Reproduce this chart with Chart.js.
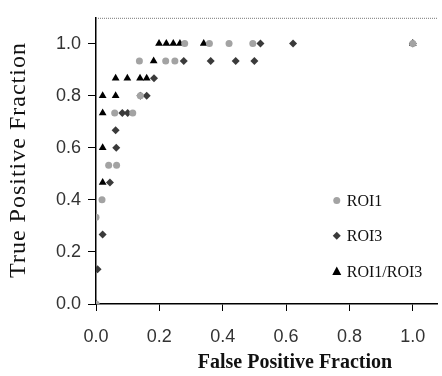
<!DOCTYPE html>
<html><head><meta charset="utf-8">
<script src="https://cdn.jsdelivr.net/npm/chart.js@4.4.1/dist/chart.umd.min.js"></script>
<style>html,body{margin:0;padding:0;background:#fff}#wrap{width:442px;height:376px}</style>
</head><body><div id="wrap"><canvas id="c" width="442" height="376"></canvas></div>
<script>
const seriesLabels = ["ROI1", "ROI3", "ROI1/ROI3"];
const roi1X = [0.0, 0.0, 0.019, 0.040, 0.065, 0.059, 0.116, 0.140, 0.137, 0.220, 0.249, 0.280, 0.358, 0.420, 0.495, 1.0];
const roi1Y = [0.0, 0.333, 0.400, 0.533, 0.533, 0.733, 0.733, 0.800, 0.933, 0.933, 0.933, 1.0, 1.0, 1.0, 1.0, 1.0];
const roi3X = [0.0, 0.005, 0.021, 0.044, 0.064, 0.062, 0.083, 0.100, 0.140, 0.160, 0.183, 0.277, 0.362, 0.441, 0.500, 0.519, 0.622, 1.0];
const roi3Y = [0.0, 0.133, 0.267, 0.467, 0.600, 0.667, 0.733, 0.733, 0.800, 0.800, 0.867, 0.933, 0.933, 0.933, 0.933, 1.0, 1.0, 1.0];
const comboX = [0.0, 0.021, 0.021, 0.021, 0.021, 0.062, 0.062, 0.099, 0.139, 0.160, 0.182, 0.199, 0.222, 0.244, 0.265, 0.340, 1.0];
const comboY = [0.0, 0.467, 0.600, 0.733, 0.800, 0.800, 0.867, 0.867, 0.867, 0.867, 0.933, 1.0, 1.0, 1.0, 1.0, 1.0, 1.0];
const xTicks = [0, 0.2, 0.4, 0.6, 0.8, 1.0];
const yTicks = [0, 0.2, 0.4, 0.6, 0.8, 1.0];
const xTitle = "False Positive Fraction";
const yTitle = "True Positive Fraction";

const pts = (xs, ys) => xs.map((x, i) => ({x: x, y: ys[i]}));
const styles = [
  {color: '#a3a3a3', shape: 'circle', r: 3.5},
  {color: '#3a3a3a', shape: 'rectRot', r: 4},
  {color: '#000000', shape: 'triangle', r: 4.5}
];
const dataArr = [pts(roi1X, roi1Y), pts(roi3X, roi3Y), pts(comboX, comboY)];

function drawMarker(ctx, shape, x, y, r, color) {
  ctx.save();
  ctx.fillStyle = color;
  ctx.beginPath();
  if (shape === 'circle') { ctx.arc(x, y, r, 0, Math.PI * 2); }
  else if (shape === 'rectRot') { ctx.moveTo(x, y - r); ctx.lineTo(x + r, y); ctx.lineTo(x, y + r); ctx.lineTo(x - r, y); ctx.closePath(); }
  else { ctx.moveTo(x, y - r * 1.1); ctx.lineTo(x + r, y + r * 0.8); ctx.lineTo(x - r, y + r * 0.8); ctx.closePath(); }
  ctx.fill();
  ctx.restore();
}

const extras = {
  id: 'extras',
  afterDraw(chart) {
    const ctx = chart.ctx, a = chart.chartArea, xs = chart.scales.x, ys = chart.scales.y;
    // dotted top border
    ctx.save();
    ctx.strokeStyle = '#777';
    ctx.lineWidth = 1;
    ctx.setLineDash([1, 1]);
    ctx.beginPath(); ctx.moveTo(a.left, a.top + 0.5); ctx.lineTo(a.right, a.top + 0.5); ctx.stroke();
    ctx.restore();
    // legend
    const legY = [0.397, 0.262, 0.125];
    ctx.save();
    ctx.font = '16px "Liberation Serif", serif';
    ctx.fillStyle = '#111';
    ctx.textBaseline = 'middle';
    seriesLabels.forEach((lab, i) => {
      const px = xs.getPixelForValue(0.76), py = ys.getPixelForValue(legY[i]);
      drawMarker(ctx, styles[i].shape, px, py, styles[i].r, styles[i].color);
      ctx.fillText(lab, px + 10, py + 1);
    });
    ctx.restore();
    // axis titles
    ctx.save();
    ctx.fillStyle = '#111';
    ctx.font = 'bold 20px "Liberation Serif", serif';
    ctx.textAlign = 'center';
    ctx.textBaseline = 'middle';
    ctx.fillText(xTitle, 295, 363);
    ctx.translate(19, 160);
    ctx.rotate(-Math.PI / 2);
    ctx.font = '24px "Liberation Serif", serif';
    try { ctx.letterSpacing = '1px'; } catch (e) {}
    ctx.fillText(yTitle, 0, 0);
    ctx.restore();
  }
};

new Chart(document.getElementById('c'), {
  type: 'scatter',
  data: {
    datasets: dataArr.map((d, i) => ({
      label: seriesLabels[i],
      data: d,
      pointStyle: styles[i].shape,
      pointRadius: styles[i].r,
      backgroundColor: styles[i].color,
      borderColor: styles[i].color,
      borderWidth: 0,
      pointHoverRadius: styles[i].r
    }))
  },
  options: {
    responsive: false,
    animation: false,
    layout: {padding: {top: 5, right: 0, left: 0, bottom: 0}},
    plugins: {legend: {display: false}, tooltip: {enabled: false}},
    scales: {
      x: {
        type: 'linear', min: 0, max: 1.078,
        afterBuildTicks: s => { s.ticks = xTicks.map(v => ({value: v})); },
        afterFit: s => { s.height = 72; },
        grid: {display: true, drawOnChartArea: false, drawTicks: true, tickLength: 7, color: '#000', lineWidth: 1},
        border: {display: true, color: '#000', width: 1.5},
        ticks: {padding: 15, color: '#333', font: {family: '"Liberation Sans", Arial, sans-serif', size: 18},
                callback: v => v.toFixed(1), maxRotation: 0}
      },
      y: {
        type: 'linear', min: 0, max: 1.099,
        afterBuildTicks: s => { s.ticks = yTicks.map(v => ({value: v})); },
        afterFit: s => { s.width = 96; },
        grid: {display: true, drawOnChartArea: false, drawTicks: true, tickLength: 8, color: '#000', lineWidth: 1},
        border: {display: true, color: '#000', width: 1.5},
        ticks: {padding: 7, color: '#333', font: {family: '"Liberation Sans", Arial, sans-serif', size: 18},
                callback: v => v.toFixed(1)}
      }
    }
  },
  plugins: [extras]
});
</script></body></html>
